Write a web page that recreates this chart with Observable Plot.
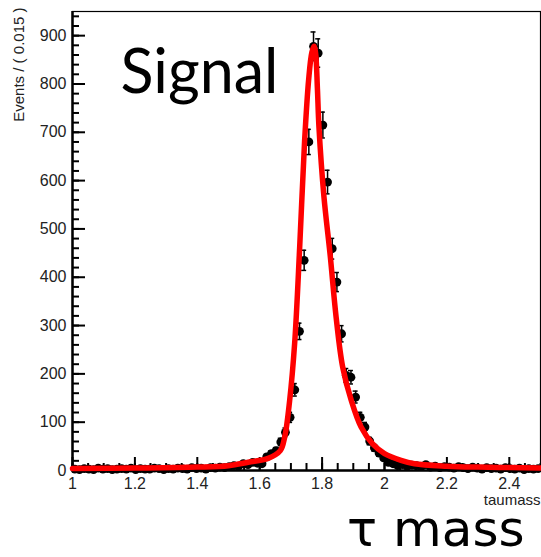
<!DOCTYPE html>
<html>
<head>
<meta charset="utf-8">
<script src="https://cdn.jsdelivr.net/npm/d3@7"></script>
<script src="https://cdn.jsdelivr.net/npm/@observablehq/plot@0.6"></script>
<style>
  html, body { margin: 0; padding: 0; background: #fff; }
  #chart svg { display: block; }
</style>
</head>
<body>
<div id="chart"></div>
<script>
// Histogram: 100 bins of width 0.015 from 1.0 to 2.5
const binLo = 1.0;
const binWidth = 0.015;
const counts = [
  3, 2, 4, 3, 2, 5, 3, 4, 2, 3,
  4, 3, 5, 2, 4, 3, 3, 5, 4, 2,
  4, 3, 5, 4, 3, 6, 4, 5, 3, 6,
  5, 7, 6, 8, 10, 9, 14, 12, 17, 15,
  14, 28, 35, 41, 59, 79, 110, 167, 288, 435,
  680, 878, 864, 715, 597, 459, 390, 283, 197, 193,
  152, 110, 90, 61, 47, 36, 26, 17, 14, 10,
  12, 9, 11, 10, 8, 12, 7, 9, 6, 8,
  7, 5, 8, 6, 4, 7, 5, 3, 6, 4,
  5, 3, 6, 4, 3, 5, 2, 4, 3, 4
];

// Fit curve
const curveX = [1.0, 1.2, 1.4, 1.5, 1.563, 1.627, 1.666, 1.68, 1.696, 1.712, 1.728, 1.744, 1.757, 1.767, 1.774, 1.779, 1.785, 1.79, 1.806, 1.826, 1.845, 1.866, 1.8935, 1.925, 1.962, 2.0, 2.053, 2.096, 2.2, 2.3, 2.4, 2.5];
const curveY = [4, 5, 7, 10, 17, 25, 41, 69, 145, 263, 460, 683, 810, 865, 878, 865, 790, 710, 566, 445, 317, 214, 145, 90, 55, 35, 21, 14, 9, 7, 6, 5];

// Axis ticks
const xMajor = [1, 1.2, 1.4, 1.6, 1.8, 2, 2.2, 2.4];
const xMinor = d3.range(0, 31).map(i => 1 + i * 0.05);
const yMajor = [0, 100, 200, 300, 400, 500, 600, 700, 800, 900];
const yMinor = d3.range(0, 48).map(i => i * 20);

const points = counts.map((c, i) => ({
  x: binLo + binWidth * (i + 0.5),
  y: c,
  lo: c - Math.sqrt(c),
  hi: c + Math.sqrt(c)
}));
const curve = curveX.map((x, i) => ({x, y: curveY[i]}));

const chart = Plot.plot({
  width: 541,
  height: 557,
  marginLeft: 72,
  marginRight: 1,
  marginTop: 11,
  marginBottom: 87,
  style: {fontFamily: "'Liberation Sans', Arial, sans-serif", background: "white"},
  x: {domain: [1, 2.5]},
  y: {domain: [0, 950]},
  marks: [
    Plot.frame({stroke: "black", strokeWidth: 1.2}),
    // inward ticks (ROOT style)
    Plot.ruleX(xMinor, {x: d => d, y1: 0, y2: 0, insetTop: -7, stroke: "black", strokeWidth: 2}),
    Plot.ruleX(xMajor, {x: d => d, y1: 0, y2: 0, insetTop: -13, stroke: "black", strokeWidth: 2}),
    Plot.ruleY(yMinor, {y: d => d, x1: 1, x2: 1, insetRight: -7, stroke: "black", strokeWidth: 2}),
    Plot.ruleY(yMajor, {y: d => d, x1: 1, x2: 1, insetRight: -13, stroke: "black", strokeWidth: 2}),
    Plot.axisX(xMajor, {tickSize: 0, tickPadding: 7, fontSize: 16, color: "#222",
      tickFormat: d => String(+d.toFixed(1)), label: null}),
    Plot.axisY(yMajor, {tickSize: 0, tickPadding: 6, fontSize: 16, color: "#222", label: null}),
    Plot.ruleY([0], {strokeWidth: 2.5}),
    Plot.ruleX([1], {strokeWidth: 2.5}),
    Plot.ruleX(points, {x: "x", y1: "lo", y2: "hi", stroke: "black", strokeWidth: 1.5}),
    Plot.ruleY(points, {y: "hi", x1: "x", x2: "x", insetLeft: -2.5, insetRight: -2.5, stroke: "black", strokeWidth: 1.5}),
    Plot.ruleY(points, {y: "lo", x1: "x", x2: "x", insetLeft: -2.5, insetRight: -2.5, stroke: "black", strokeWidth: 1.5}),
    Plot.dot(points, {x: "x", y: "y", r: 4.4, fill: "black", stroke: "none"}),
    Plot.line(curve, {x: "x", y: "y", curve: "catmull-rom", stroke: "#ff0000", strokeWidth: 5.5}),
    Plot.text(["Signal"], {frameAnchor: "top-left", dx: 48, dy: 62, textAnchor: "start", lineAnchor: "middle",
      fontSize: 61, fontFamily: "Lato, 'Open Sans', sans-serif", fill: "black"}),
    Plot.text(["taumass"], {frameAnchor: "bottom-right", dx: 0, dy: 30, textAnchor: "end", lineAnchor: "middle",
      fontSize: 15, fill: "#222"}),
    Plot.text(["τ mass"], {frameAnchor: "bottom-right", dx: -16, dy: 59, textAnchor: "end", lineAnchor: "middle",
      fontSize: 50, fontFamily: "'DejaVu Sans', sans-serif", fill: "black"}),
    Plot.text(["Events / ( 0.015 )"], {frameAnchor: "top-left", dx: -53, dy: -4, rotate: -90, textAnchor: "end",
      lineAnchor: "middle", fontSize: 15, fill: "#222"})
  ]
});
document.getElementById("chart").appendChild(chart);
</script>
</body>
</html>
